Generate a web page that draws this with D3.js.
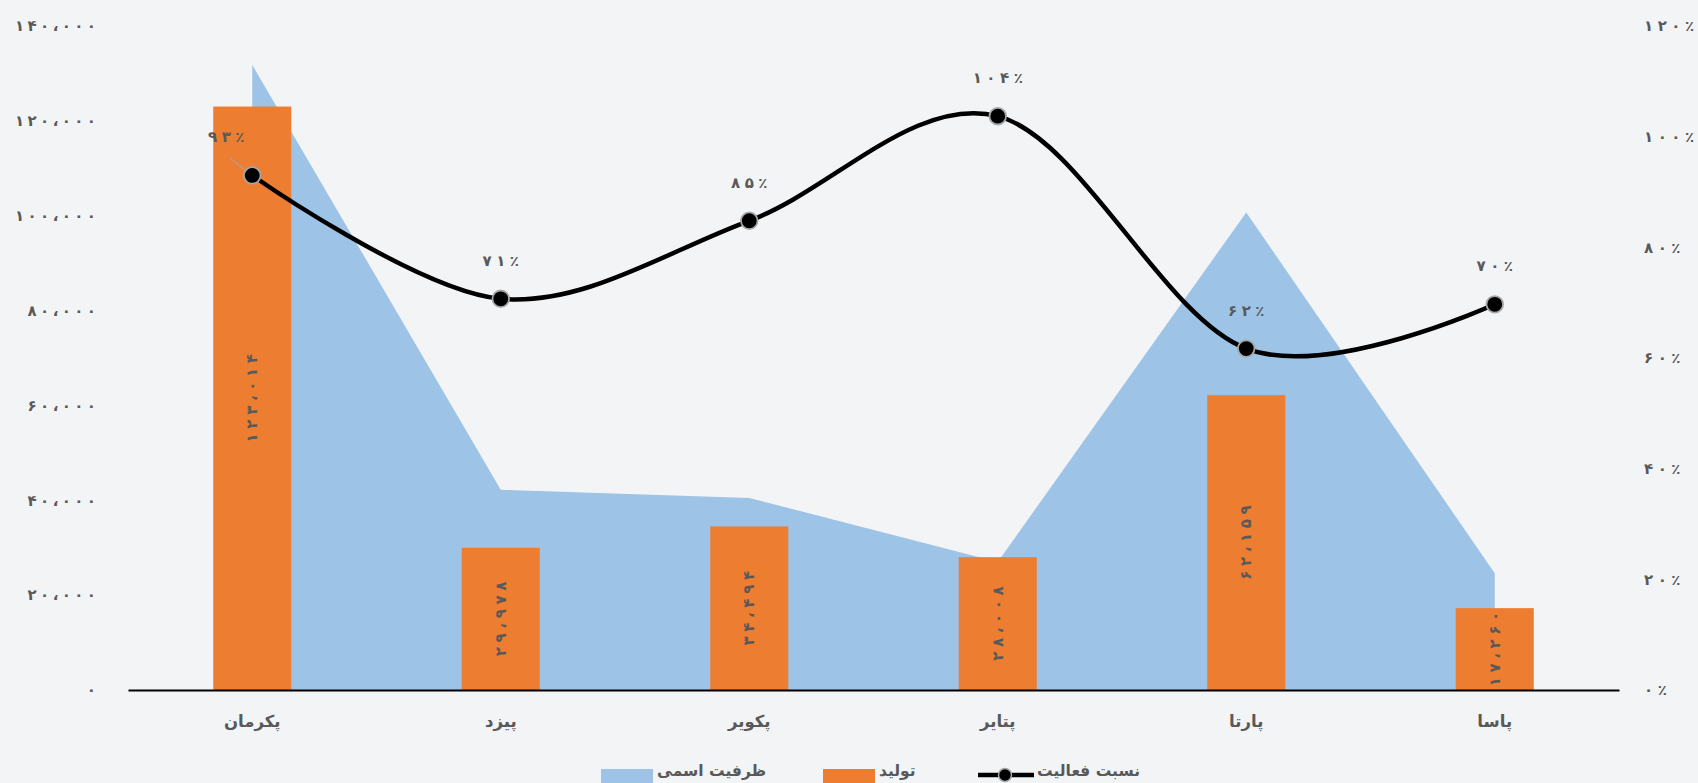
<!DOCTYPE html>
<html>
<head>
<meta charset="utf-8">
<script src="https://cdn.jsdelivr.net/npm/d3@7"></script>
<style>
  html, body { margin: 0; padding: 0; background: #f3f4f6; }
  svg { display: block; }
  text { font-family: "DejaVu Sans", "Noto Sans", sans-serif; fill: #595959; }
</style>
</head>
<body>
<svg id="chart" width="1698" height="783"></svg>
<script>
// ---- data ----
const categories = ["پکرمان", "پیزد", "پکویر", "پتایر", "پارتا", "پاسا"];
const capacity   = [131800, 42200, 40500, 27000, 100700, 24600];   // ظرفیت اسمی
const production = [123014, 29978, 34494, 28008, 62159, 17260];    // تولید
const activity   = [0.93, 0.707, 0.848, 1.037, 0.617, 0.697];      // نسبت فعالیت
const leftTicks  = [0, 20000, 40000, 60000, 80000, 100000, 120000, 140000];
const rightTicks = [0, 0.2, 0.4, 0.6, 0.8, 1.0, 1.2];
const seriesNames = ["ظرفیت اسمی", "تولید", "نسبت فعالیت"];

// ---- helpers ----
const faDigits = "۰۱۲۳۴۵۶۷۸۹";
const toFa = s => String(s).replace(/[0-9]/g, d => faDigits[+d]).replace(/,/g, "،");
const fmtNum = v => toFa(d3.format(",")(v));
const fmtPct = v => toFa(Math.round(v * 100)) + "٪";
// per-glyph spacing (letter-spacing is ignored for Arabic-script glyphs)
function spread(sel, gap) {
  sel.each(function () {
    const t = d3.select(this);
    const n = Array.from(t.text()).length;
    t.attr("dx", d3.range(n).map(i => (i ? gap : 0)).join(" "));
  });
}

const W = 1698, H = 783;
const plotL = 128, plotR = 1619, baseY = 690, topY = 26;
const colors = { area: "#9dc3e6", bar: "#ed7d31", line: "#000000" };

const svg = d3.select("#chart");
svg.append("rect").attr("width", W).attr("height", H).attr("fill", "#f3f4f6");

const x = d3.scaleBand().domain(categories).range([plotL, plotR]).padding(0);
const cx = c => x(c) + x.bandwidth() / 2;
const yL = d3.scaleLinear().domain([0, 140000]).range([baseY, topY]);
const yR = d3.scaleLinear().domain([0, 1.2]).range([baseY, topY]);

const numFont = 15;

// ---- left axis ----
const gL = svg.append("g").attr("transform", `translate(96,0)`)
  .call(d3.axisLeft(yL).tickValues(leftTicks).tickSize(0).tickPadding(0).tickFormat(fmtNum));
gL.select(".domain").remove();
gL.selectAll("text").attr("font-size", numFont).attr("font-weight", "bold")
  .style("font-family", '"DejaVu Sans", sans-serif').attr("fill", "#595959")
  .call(spread, 3.4);

// ---- right axis ----
const gR = svg.append("g").attr("transform", `translate(1644,0)`)
  .call(d3.axisRight(yR).tickValues(rightTicks).tickSize(0).tickPadding(0).tickFormat(fmtPct));
gR.select(".domain").remove();
gR.selectAll("text").attr("font-size", numFont).attr("font-weight", "bold")
  .style("font-family", '"DejaVu Sans", sans-serif').attr("fill", "#595959")
  .call(spread, 4.5);

// ---- area (capacity) ----
const areaData = categories.map((c, i) => ({ c, v: capacity[i] }));
svg.append("path").datum(areaData)
  .attr("fill", colors.area)
  .attr("d", d3.area().x(d => cx(d.c)).y0(baseY).y1(d => yL(d.v)));

// ---- bars (production) ----
const barW = x.bandwidth() * 0.314;
const barData = categories.map((c, i) => ({ c, v: production[i] }));
svg.append("g").selectAll("rect").data(barData).join("rect")
  .attr("x", d => cx(d.c) - barW / 2)
  .attr("width", barW)
  .attr("y", d => yL(d.v))
  .attr("height", d => baseY - yL(d.v))
  .attr("fill", colors.bar);

// bar labels, rotated
svg.append("g").selectAll("text").data(barData).join("text")
  .attr("transform", d => `translate(${cx(d.c)},${(yL(d.v) + baseY) / 2}) rotate(-90)`)
  .attr("text-anchor", "middle")
  .attr("dominant-baseline", "central")
  .attr("font-size", numFont).attr("font-weight", "bold")
  .text(d => fmtNum(d.v))
  .call(spread, 4.6);

// ---- x axis ----
const gX = svg.append("g").attr("transform", `translate(0,${baseY})`)
  .call(d3.axisBottom(x).tickSize(0).tickPadding(25));
gX.select(".domain").attr("stroke", "#000").attr("stroke-width", 2.2);
gX.selectAll("text").attr("font-size", 16.5).attr("font-weight", "bold")
  .style("font-family", '"DejaVu Sans", sans-serif').attr("fill", "#595959");

// ---- line (activity) ----
const lineData = categories.map((c, i) => ({ c, v: activity[i] }));
svg.append("path").datum(lineData)
  .attr("fill", "none").attr("stroke", colors.line).attr("stroke-width", 4.5)
  .attr("d", d3.line().x(d => cx(d.c)).y(d => yR(d.v)).curve(d3.curveCatmullRom.alpha(0)));

// leader line for first label
const first = lineData[0];
svg.append("line")
  .attr("x1", cx(first.c) - 23).attr("y1", yR(first.v) - 18)
  .attr("x2", cx(first.c)).attr("y2", yR(first.v))
  .attr("stroke", "#a6a6a6").attr("stroke-width", 1.2);

svg.append("g").selectAll("circle").data(lineData).join("circle")
  .attr("cx", d => cx(d.c)).attr("cy", d => yR(d.v)).attr("r", 8.3)
  .attr("fill", "#000").attr("stroke", "#a6a6a6").attr("stroke-width", 1.8);

svg.append("g").selectAll("text").data(lineData).join("text")
  .attr("x", (d, i) => cx(d.c) + (i === 0 ? -26 : 0))
  .attr("y", d => yR(d.v) - 38)
  .attr("text-anchor", "middle")
  .attr("dominant-baseline", "central")
  .attr("font-size", numFont).attr("font-weight", "bold")
  .text(d => fmtPct(d.v))
  .call(spread, 4.5);

// ---- legend ----
const lg = svg.append("g");
const legFont = 15.5;
// capacity
lg.append("rect").attr("x", 601).attr("y", 769).attr("width", 52).attr("height", 20).attr("fill", colors.area);
lg.append("text").attr("x", 657).attr("y", 771).attr("dominant-baseline", "central")
  .attr("font-size", legFont).attr("font-weight", "bold").text(seriesNames[0]);
// production
lg.append("rect").attr("x", 823).attr("y", 769).attr("width", 52).attr("height", 20).attr("fill", colors.bar);
lg.append("text").attr("x", 879).attr("y", 771).attr("dominant-baseline", "central")
  .attr("font-size", legFont).attr("font-weight", "bold").text(seriesNames[1]);
// activity
lg.append("line").attr("x1", 978).attr("x2", 1034).attr("y1", 775).attr("y2", 775)
  .attr("stroke", "#000").attr("stroke-width", 4.5);
lg.append("circle").attr("cx", 1005).attr("cy", 775).attr("r", 6.5)
  .attr("fill", "#000").attr("stroke", "#a6a6a6").attr("stroke-width", 1.5);
lg.append("text").attr("x", 1037).attr("y", 771).attr("dominant-baseline", "central")
  .attr("font-size", legFont).attr("font-weight", "bold").text(seriesNames[2]);
</script>
</body>
</html>
